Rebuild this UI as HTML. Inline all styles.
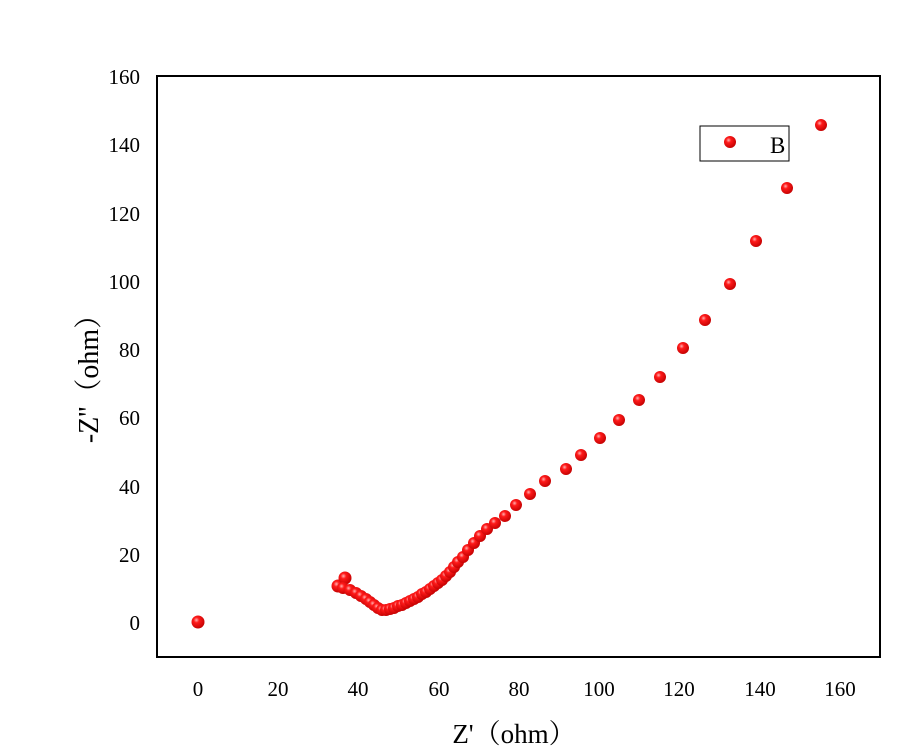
<!DOCTYPE html><html><head><style>body{margin:0;background:#fff}</style></head><body>
<svg width="900" height="751" xmlns="http://www.w3.org/2000/svg" font-family="Liberation Serif, Noto Serif CJK SC, serif">
<defs><radialGradient id="g" cx="0.38" cy="0.35" r="0.7"><stop offset="0" stop-color="#ffb0b0"/><stop offset="0.3" stop-color="#ff1a1a"/><stop offset="1" stop-color="#c00000"/></radialGradient></defs>
<rect x="157" y="76" width="723" height="581" fill="none" stroke="#000" stroke-width="2"/>
<g font-size="21" fill="#000" text-anchor="middle">
<text x="198" y="696">0</text><text x="278" y="696">20</text><text x="358" y="696">40</text><text x="439" y="696">60</text><text x="519" y="696">80</text><text x="599" y="696">100</text><text x="679" y="696">120</text><text x="760" y="696">140</text><text x="840" y="696">160</text>
</g>
<g font-size="21" fill="#000" text-anchor="end">
<text x="140" y="630">0</text><text x="140" y="562">20</text><text x="140" y="494">40</text><text x="140" y="425">60</text><text x="140" y="357">80</text><text x="140" y="289">100</text><text x="140" y="221">120</text><text x="140" y="152">140</text><text x="140" y="84">160</text>
</g>
<text x="514" y="743" font-size="27" text-anchor="middle">Z'（ohm）</text>
<text transform="translate(98,372) rotate(-90)" font-size="28" text-anchor="middle">-Z''（ohm）</text>
<rect x="700" y="126" width="89" height="35" fill="none" stroke="#000" stroke-width="1"/>
<text x="770" y="153" font-size="23">B</text>
<g fill="url(#g)">
<circle cx="730" cy="142" r="6"/>
<circle cx="198" cy="622" r="6.5"/><circle cx="338" cy="586" r="6.5"/><circle cx="345" cy="578" r="6.5"/><circle cx="343" cy="588" r="6"/><circle cx="350" cy="590" r="6"/><circle cx="356" cy="593" r="6"/><circle cx="361" cy="596" r="6"/><circle cx="366" cy="599" r="6"/><circle cx="370" cy="602" r="6"/><circle cx="374" cy="605" r="6"/><circle cx="378" cy="608" r="6"/><circle cx="382" cy="610" r="6"/><circle cx="386" cy="610" r="6"/><circle cx="390" cy="609" r="6"/><circle cx="394" cy="608" r="6"/><circle cx="398" cy="606" r="6"/><circle cx="402" cy="605" r="6"/><circle cx="406" cy="603" r="6"/><circle cx="410" cy="601" r="6"/><circle cx="414" cy="599" r="6"/><circle cx="418" cy="597" r="6"/><circle cx="422" cy="594" r="6"/><circle cx="426" cy="592" r="6"/><circle cx="430" cy="589" r="6"/><circle cx="434" cy="586" r="6"/><circle cx="438" cy="583" r="6"/><circle cx="442" cy="580" r="6"/><circle cx="446" cy="576" r="6"/><circle cx="450" cy="572" r="6"/><circle cx="454" cy="567" r="6"/><circle cx="458" cy="562" r="6"/><circle cx="463" cy="557" r="6"/><circle cx="468" cy="550" r="6"/><circle cx="474" cy="543" r="6"/><circle cx="480" cy="536" r="6"/><circle cx="487" cy="529" r="6"/><circle cx="495" cy="523" r="6"/><circle cx="505" cy="516" r="6"/><circle cx="516" cy="505" r="6"/><circle cx="530" cy="494" r="6"/><circle cx="545" cy="481" r="6"/><circle cx="566" cy="469" r="6"/><circle cx="581" cy="455" r="6"/><circle cx="600" cy="438" r="6"/><circle cx="619" cy="420" r="6"/><circle cx="639" cy="400" r="6"/><circle cx="660" cy="377" r="6"/><circle cx="683" cy="348" r="6"/><circle cx="705" cy="320" r="6"/><circle cx="730" cy="284" r="6"/><circle cx="756" cy="241" r="6"/><circle cx="787" cy="188" r="6"/><circle cx="821" cy="125" r="6"/>
</g>
</svg>
</body></html>
